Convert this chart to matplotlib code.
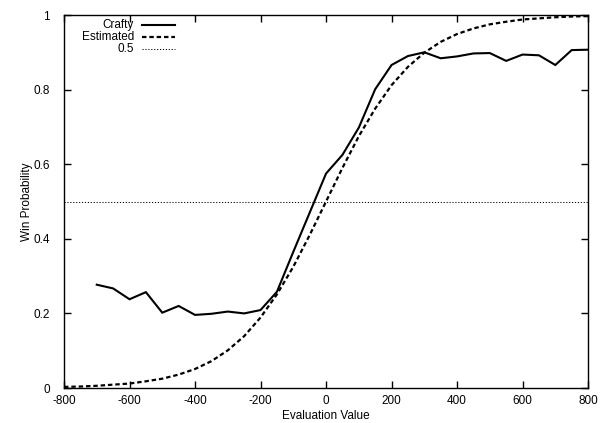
import matplotlib
matplotlib.use("Agg")
import matplotlib.pyplot as plt

plt.rcParams['font.family'] = ['Liberation Sans', 'DejaVu Sans']
plt.rcParams['axes.unicode_minus'] = False

# Crafty: observed win probability per evaluation bucket
crafty_x = [-700, -650, -600, -550, -500, -450, -400, -350, -300, -250, -200, -150,
            -100, -50, 0, 50, 100, 150, 200, 250, 300, 350, 400, 450, 500, 550,
            600, 650, 700, 750, 800]
crafty_y = [0.277, 0.267, 0.238, 0.257, 0.202, 0.220, 0.196, 0.199, 0.205, 0.200, 0.209, 0.258,
            0.365, 0.470, 0.575, 0.625, 0.698, 0.801, 0.866, 0.890, 0.900, 0.884, 0.889, 0.897,
            0.898, 0.877, 0.894, 0.892, 0.866, 0.906, 0.907]

# Estimated curve
est_x = [-800, -750, -700, -650, -600, -550, -500, -450, -400, -350, -300, -250, -200,
         -150, -100, -50, 0, 50, 100, 150, 200, 250, 300, 350, 400, 450, 500, 550,
         600, 650, 700, 750, 800]
est_y = [0.003, 0.004, 0.006, 0.009, 0.012, 0.018, 0.025, 0.036, 0.051, 0.072, 0.101, 0.139,
         0.189, 0.251, 0.325, 0.410, 0.500, 0.590, 0.675, 0.749, 0.812, 0.861, 0.899, 0.928,
         0.949, 0.964, 0.975, 0.982, 0.988, 0.991, 0.994, 0.996, 0.997]

half = 0.5
xticks = [-800, -600, -400, -200, 0, 200, 400, 600, 800]
yticks = [0, 0.2, 0.4, 0.6, 0.8, 1]
yticklabels = ['0', '0.2', '0.4', '0.6', '0.8', '1']

fs = 8.5
fig = plt.figure(figsize=(6.01, 4.23), dpi=100)
ax = fig.add_axes([0.1065, 0.0827, 0.8720, 0.8818])

ax.plot(crafty_x, crafty_y, color='black', linewidth=1.5, solid_joinstyle='miter')
ax.plot(est_x, est_y, color='black', linewidth=1.6, linestyle=(0, (2.0, 1.3)))
ax.axhline(half, color='black', linewidth=0.7, linestyle=(0, (1.2, 1.8)))

ax.set_xlim(-800, 800)
ax.set_ylim(0, 1)
ax.set_xticks(xticks)
ax.set_yticks(yticks)
ax.set_yticklabels(yticklabels)
ax.tick_params(direction='in', length=5, width=1, top=True, right=True, labelsize=fs)
ax.tick_params(axis='y', pad=10)
ax.tick_params(axis='x', pad=5)
for s in ax.spines.values():
    s.set_linewidth(1.0)

ax.set_xlabel('Evaluation Value', fontsize=fs, va='center')
ax.set_ylabel('Win Probability', fontsize=fs, va='center')
ax.xaxis.set_label_coords(0.5, -0.075)
ax.yaxis.set_label_coords(-0.0706, 0.5)

# gnuplot style legend: text right aligned, sample to the right
leg = [('Crafty', dict(linewidth=1.5, linestyle='-')),
       ('Estimated', dict(linewidth=1.6, linestyle=(0, (2.0, 1.3)))),
       ('0.5', dict(linewidth=0.7, linestyle=(0, (1.2, 1.8))))]
ys = [0.973, 0.940, 0.908]
for (name, st), yy in zip(leg, ys):
    ax.text(0.1336, yy, name, transform=ax.transAxes, ha='right', va='center', fontsize=fs)
    ax.plot([0.148, 0.212], [yy, yy], transform=ax.transAxes, color='black', **st)

fig.savefig('out.png', dpi=100)
